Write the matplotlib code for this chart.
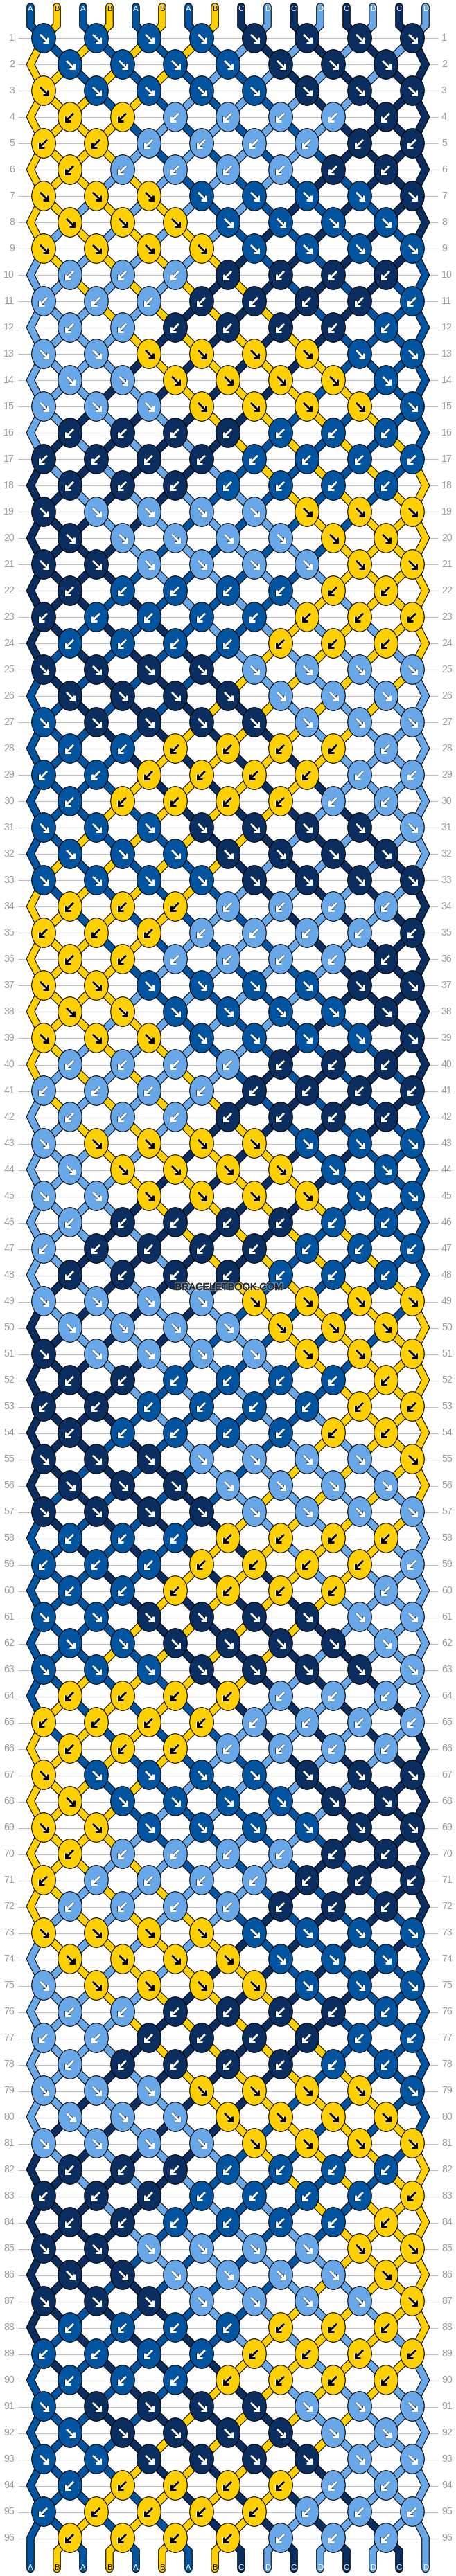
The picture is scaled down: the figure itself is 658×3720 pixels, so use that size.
import matplotlib
matplotlib.use("Agg")
import matplotlib.pyplot as plt
import matplotlib.patheffects as pe
from matplotlib.patches import Ellipse

# ---------- data ----------
START_STRANDS = list("ABABABABCDCDCDCD")
STRAND_COLORS = {"A": "#0054A0", "B": "#FFD000", "C": "#0A2E60", "D": "#68A8E8"}
ROW_NUMBERS = list(range(1, 97))
R8, R7, L8, L7 = "RRRRRRRR", "RRRRRRR", "LLLLLLLL", "LLLLLLL"
ROW_KNOTS = [
    R8, R7, R8, L7, L8, L7,   # rows 1-6
    R8, R7, R8, L7, L8, L7,   # rows 7-12
    R8, R7, R8, L7, L8, L7,   # rows 13-18
    R8, R7, R8, L7, L8, L7,   # rows 19-24
    R8, R7, R8, L7, L8, L7,   # rows 25-30
    R8, R7, R8, L7, L8, L7,   # rows 31-36
    R8, R7, R8, L7, L8, L7,   # rows 37-42
    R8, R7, R8, L7, L8, L7,   # rows 43-48
    R8, R7, R8, L7, L8, L7,   # rows 49-54
    R8, R7, R8, L7, L8, L7,   # rows 55-60
    R8, R7, R8, L7, L8, L7,   # rows 61-66
    R8, R7, R8, L7, L8, L7,   # rows 67-72
    R8, R7, R8, L7, L8, L7,   # rows 73-78
    R8, R7, R8, L7, L8, L7,   # rows 79-84
    R8, R7, R8, L7, L8, L7,   # rows 85-90
    R8, R7, R8, L7, L8, L7,   # rows 91-96
]
WATERMARK = "BRACELETBOOK.COM"

# ---------- layout (pixels) ----------
W, H = 658, 3720
X0, STEP_X = 44, 38
Y1, STEP_Y = 55, 38
TOP, BOTTOM = 10, 3709.3
PX = 72 / 100

fig = plt.figure(figsize=(W / 100, H / 100), dpi=100)
ax = fig.add_axes([0, 0, 1, 1])
ax.set_xlim(0, W)
ax.set_ylim(H, 0)
ax.axis("off")

FONT = ["Liberation Sans", "DejaVu Sans"]
slot_x = lambda p: X0 + STEP_X * p
row_y = lambda i: Y1 + STEP_Y * i

# row rules and numbers
for i, n in enumerate(ROW_NUMBERS):
    y = row_y(i)
    ax.plot([26, 632], [y + .5, y + .5], color="#BDBDBD", lw=1.1 * PX, zorder=1, solid_capstyle="butt")
    ax.text(21, y + .3, str(n), ha="right", va="center", fontsize=10.2, color="#999999", family=FONT, zorder=1)
    ax.text(637, y + .3, str(n), ha="left", va="center", fontsize=10.2, color="#999999", family=FONT, zorder=1)

# walk the strands through the rows
strands = [{"name": c, "pts": [(slot_x(p), TOP), (slot_x(p), Y1 - 18.5)]} for p, c in enumerate(START_STRANDS)]
order = list(range(16))
knots = []
for i, dirs in enumerate(ROW_KNOTS):
    y = row_y(i)
    first = 0 if len(dirs) == 8 else 1
    if first == 1:
        strands[order[0]]["pts"].append((slot_x(0), y))
        strands[order[15]]["pts"].append((slot_x(15), y))
    for k, d in enumerate(dirs):
        pa, pb = first + 2 * k, first + 2 * k + 1
        sa, sb = order[pa], order[pb]
        x = (slot_x(pa) + slot_x(pb)) / 2
        strands[sa]["pts"].append((x, y))
        strands[sb]["pts"].append((x, y))
        knots.append((x, y, d, strands[sa]["name"] if d == "R" else strands[sb]["name"]))
        order[pa], order[pb] = sb, sa

for p, s in enumerate(order):
    pts = strands[s]["pts"]
    x = slot_x(p)
    if p not in (0, 15):
        pts.append((x, row_y(95) + 19))
    else:
        pts.append((x, row_y(95)))
    pts.append((x, BOTTOM))

for s in strands:
    xs, ys = zip(*s["pts"])
    ax.plot(xs, ys, color="black", lw=11.6 * PX, zorder=2, solid_joinstyle="miter", solid_capstyle="round")
    ax.plot(xs, ys, color=STRAND_COLORS[s["name"]], lw=9.4 * PX, zorder=3, solid_joinstyle="miter", solid_capstyle="round")

# knots with arrows
for x, y, d, name in knots:
    ax.add_patch(Ellipse((x, y), 34.5, 42.6, facecolor=STRAND_COLORS[name], edgecolor="black", lw=1.1 * PX, zorder=4))
    fg, halo = ("black", "white") if name == "B" else ("white", "black")
    halo_alpha = 1 if name == "B" else 0.55
    sx = 1 if d == "R" else -1
    shaft = ([x - 5.0 * sx, x + 5.8 * sx], [y - 5.2, y + 5.6])
    head = ([x + 5.8 * sx, x + 5.8 * sx, x - 1.0 * sx], [y - 1.2, y + 5.6, y + 5.6])
    for col, lw, z, al in ((halo, 4.2, 5, halo_alpha), (fg, 3.0, 6, 1)):
        ax.plot(*shaft, color=col, lw=lw * PX, zorder=z, alpha=al, solid_capstyle="butt")
        ax.plot(*head, color=col, lw=lw * PX, zorder=z, alpha=al, solid_joinstyle="miter", solid_capstyle="butt")

# strand letters
for p, c in enumerate(START_STRANDS):
    ax.text(slot_x(p), 12.5, c, ha="center", va="center", fontsize=8.2, family=FONT, zorder=7,
            color="black" if c == "B" else "white")
for p, s in enumerate(order):
    c = strands[s]["name"]
    ax.text(slot_x(p), 3708, c, ha="center", va="center", fontsize=8.2, family=FONT, zorder=7,
            color="black" if c == "B" else "white")

# watermark
ax.text(329.5, 1859, WATERMARK, ha="center", va="center", fontsize=10.4, family=FONT, color="#2B2B2B", zorder=8,
        path_effects=[pe.withStroke(linewidth=2.0, foreground="#FFFFFF", alpha=0.4),
                      pe.withStroke(linewidth=0.4, foreground="#2B2B2B")])

fig.savefig("out.png", dpi=100)
